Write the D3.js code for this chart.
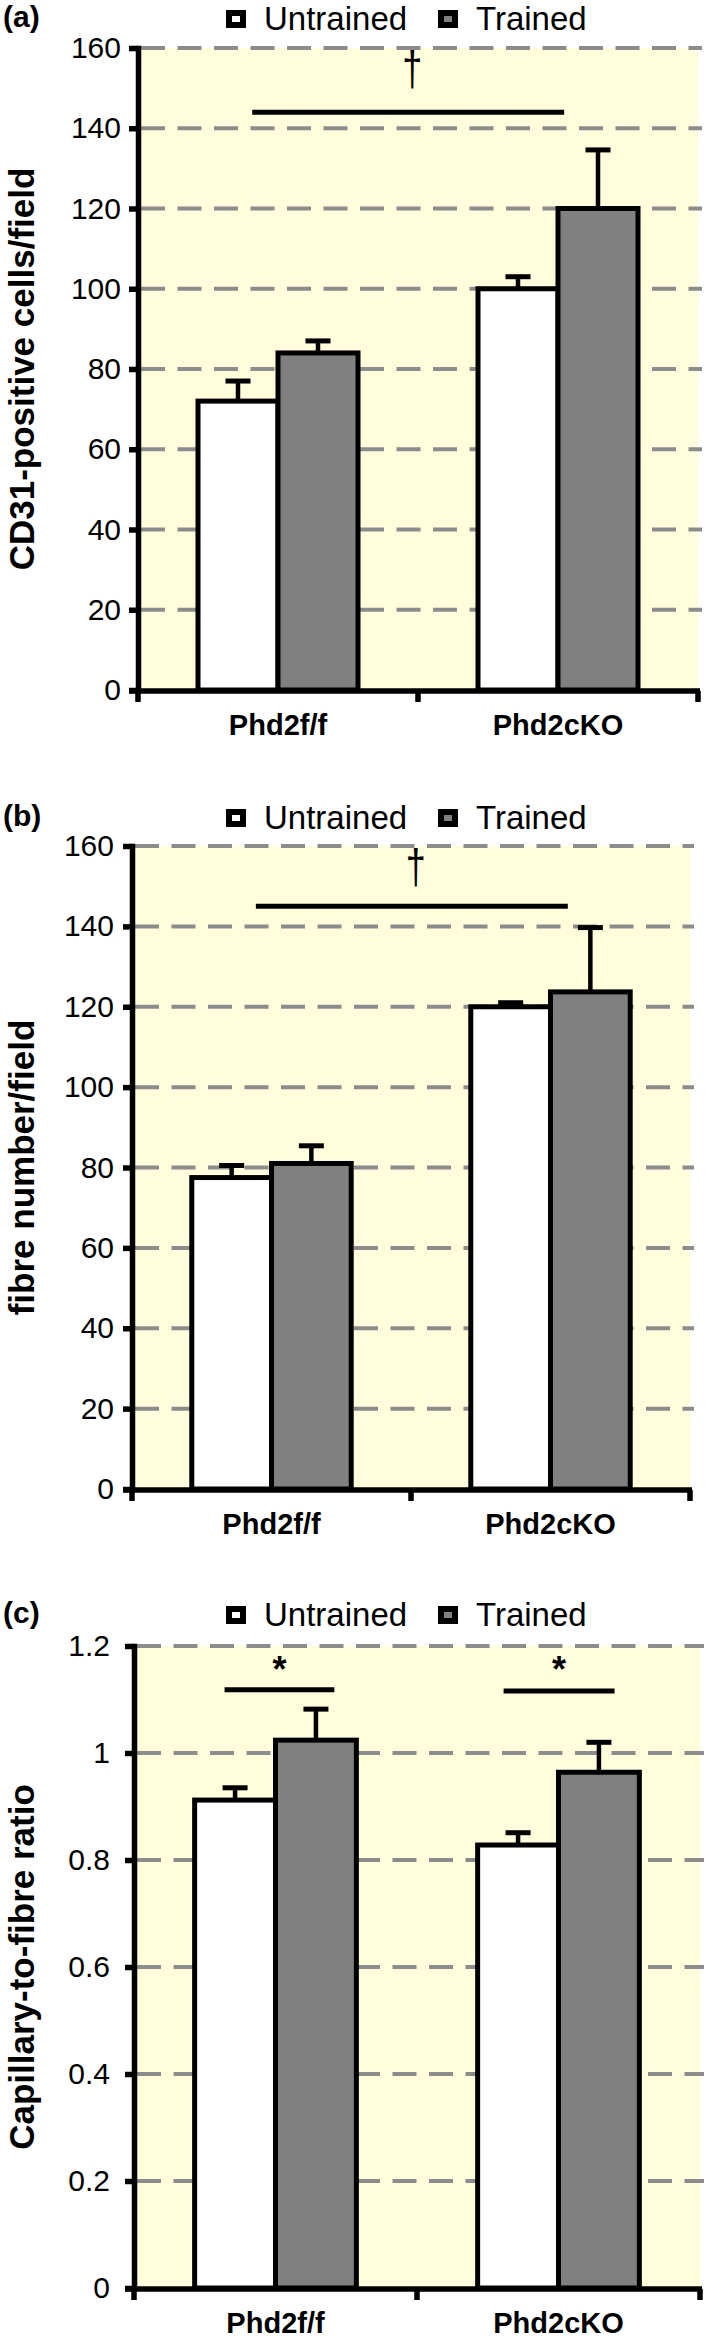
<!DOCTYPE html>
<html>
<head>
<meta charset="utf-8">
<script src="https://cdn.jsdelivr.net/npm/d3@7"></script>
<style>
body { margin: 0; background: #fff; }
svg { display: block; }
text { font-family: Arial, "Liberation Sans", Helvetica, sans-serif; }
</style>
</head>
<body>
<svg id="fig" width="709" height="2347"></svg>
<script>
// DATA
var categories = ['Phd2f/f', 'Phd2cKO'];
var groups = ['Untrained', 'Trained'];

// (a) CD31-positive cells/field
var cd31Untrained = [72, 100];
var cd31Trained = [84, 120];
var cd31UntrainedErr = [5, 3];
var cd31TrainedErr = [3, 14.6];
var cd31Ticks = [0, 20, 40, 60, 80, 100, 120, 140, 160];
var cd31TickLabels = ['0', '20', '40', '60', '80', '100', '120', '140', '160'];
var cd31Sig = [144];

// (b) fibre number/field
var fibreUntrained = [77.5, 120];
var fibreTrained = [81, 123.7];
var fibreUntrainedErr = [3, 1];
var fibreTrainedErr = [4.4, 16];
var fibreTicks = [0, 20, 40, 60, 80, 100, 120, 140, 160];
var fibreTickLabels = ['0', '20', '40', '60', '80', '100', '120', '140', '160'];
var fibreSig = [145];

// (c) capillary-to-fibre ratio
var ratioUntrained = [0.912, 0.828];
var ratioTrained = [1.024, 0.964];
var ratioUntrainedErr = [0.023, 0.023];
var ratioTrainedErr = [0.058, 0.056];
var ratioTicks = [0, 0.2, 0.4, 0.6, 0.8, 1, 1.2];
var ratioTickLabels = ['0', '0.2', '0.4', '0.6', '0.8', '1', '1.2'];
var ratioSig = [1.118, 1.116];

// PANELS (layout only)
var panels = [
	{
		tag: '(a)', title: 'CD31-positive cells/field',
		top: 48, bottom: 690, left: 138, right: 698, legendY: 30, tickPad: 8,
		untrained: cd31Untrained, trained: cd31Trained,
		untrainedErr: cd31UntrainedErr, trainedErr: cd31TrainedErr,
		ticks: cd31Ticks, tickLabels: cd31TickLabels,
		sig: cd31Sig, sigSym: '†', sigSpan: [[0.204, 0.761]]
	},
	{
		tag: '(b)', title: 'fibre number/field',
		top: 846, bottom: 1489, left: 132, right: 690, legendY: 829, tickPad: 9,
		untrained: fibreUntrained, trained: fibreTrained,
		untrainedErr: fibreUntrainedErr, trainedErr: fibreTrainedErr,
		ticks: fibreTicks, tickLabels: fibreTickLabels,
		sig: fibreSig, sigSym: '†', sigSpan: [[0.222, 0.781]]
	},
	{
		tag: '(c)', title: 'Capillary-to-fibre ratio',
		top: 1646, bottom: 2288, left: 134, right: 700, legendY: 1626, tickPad: 15,
		untrained: ratioUntrained, trained: ratioTrained,
		untrainedErr: ratioUntrainedErr, trainedErr: ratioTrainedErr,
		ticks: ratioTicks, tickLabels: ratioTickLabels,
		sig: ratioSig, sigSym: '*', sigSpan: [[0.16, 0.354], [0.653, 0.849]]
	}
];

var fills = { 'Untrained': '#ffffff', 'Trained': '#808080' };

var svg = d3.select('#fig');

panels.forEach(function(p) {
	var g = svg.append('g');

	var yMax = p.ticks[p.ticks.length - 1];
	var y = d3.scaleLinear().domain([0, yMax]).range([p.bottom, p.top]);
	var x0 = d3.scaleBand().domain(categories).range([p.left, p.right]);
	var x1 = d3.scaleBand().domain(groups).range([0, x0.bandwidth()]).paddingOuter(0.75);

	// plot background
	g.append('rect')
		.attr('x', p.left).attr('y', p.top)
		.attr('width', p.right - p.left).attr('height', p.bottom - p.top)
		.attr('fill', '#fffddb');

	// dashed gridlines
	g.selectAll('.grid')
		.data(p.ticks.filter(function(d) { return d > 0; }))
		.enter().append('line')
		.attr('x1', p.left + 3).attr('x2', p.right + 4)
		.attr('y1', function(d) { return y(d); })
		.attr('y2', function(d) { return y(d); })
		.attr('stroke', '#8c8c8c')
		.attr('stroke-width', 4)
		.attr('stroke-dasharray', '24,12.5');

	// bars
	var rows = categories.map(function(c, i) {
		return [
			{ cat: c, grp: 'Untrained', v: p.untrained[i], e: p.untrainedErr[i] },
			{ cat: c, grp: 'Trained', v: p.trained[i], e: p.trainedErr[i] }
		];
	});
	var flat = d3.merge(rows);

	// error bars (upper only)
	g.selectAll('.err')
		.data(flat)
		.enter().append('line')
		.attr('x1', function(d) { return x0(d.cat) + x1(d.grp) + x1.bandwidth() / 2; })
		.attr('x2', function(d) { return x0(d.cat) + x1(d.grp) + x1.bandwidth() / 2; })
		.attr('y1', function(d) { return y(d.v); })
		.attr('y2', function(d) { return y(d.v + d.e); })
		.attr('stroke', '#000').attr('stroke-width', 4.5);
	g.selectAll('.cap')
		.data(flat)
		.enter().append('line')
		.attr('x1', function(d) { return x0(d.cat) + x1(d.grp) + x1.bandwidth() / 2 - 12.5; })
		.attr('x2', function(d) { return x0(d.cat) + x1(d.grp) + x1.bandwidth() / 2 + 12.5; })
		.attr('y1', function(d) { return y(d.v + d.e); })
		.attr('y2', function(d) { return y(d.v + d.e); })
		.attr('stroke', '#000').attr('stroke-width', 5);

	g.selectAll('.bar')
		.data(flat)
		.enter().append('rect')
		.attr('x', function(d) { return x0(d.cat) + x1(d.grp); })
		.attr('y', function(d) { return y(d.v); })
		.attr('width', x1.bandwidth())
		.attr('height', function(d) { return y(0) - y(d.v); })
		.attr('fill', function(d) { return fills[d.grp]; })
		.attr('stroke', '#000').attr('stroke-width', 5);

	// y axis
	var yAxis = d3.axisLeft(y)
		.tickValues(p.ticks)
		.tickFormat(function(d, i) { return p.tickLabels[i]; })
		.tickSize(9).tickSizeOuter(0).tickPadding(p.tickPad);
	var ya = g.append('g')
		.attr('transform', 'translate(' + p.left + ',0)')
		.call(yAxis);
	ya.select('.domain').attr('stroke', '#000').attr('stroke-width', 5.5).attr('stroke-linecap', 'square');
	ya.selectAll('.tick line').attr('stroke', '#000').attr('stroke-width', 5.5);
	ya.selectAll('.tick text')
		.attr('fill', '#000')
		.style('font-size', '30px')
		.style('font-family', 'Arial, "Liberation Sans", sans-serif');

	// x axis
	var xBase = y(0) + 1;
	g.append('line')
		.attr('x1', p.left - 9).attr('x2', p.right + 2)
		.attr('y1', xBase).attr('y2', xBase)
		.attr('stroke', '#000').attr('stroke-width', 5.5);
	var bounds = categories.map(function(c) { return x0(c); }).concat([x0(categories[categories.length - 1]) + x0.bandwidth()]);
	g.selectAll('.xtick')
		.data(bounds)
		.enter().append('line')
		.attr('x1', function(d) { return d; }).attr('x2', function(d) { return d; })
		.attr('y1', xBase).attr('y2', xBase + 11)
		.attr('stroke', '#000').attr('stroke-width', 5.5);
	g.selectAll('.xlab')
		.data(categories)
		.enter().append('text')
		.attr('x', function(d) { return x0(d) + x0.bandwidth() / 2; })
		.attr('y', xBase + 44)
		.attr('text-anchor', 'middle')
		.style('font-size', '29px')
		.style('font-weight', 'bold')
		.text(function(d) { return d; });

	// y title
	g.append('text')
		.attr('transform', 'translate(34,' + ((p.top + p.bottom) / 2) + ') rotate(-90)')
		.attr('text-anchor', 'middle')
		.style('font-size', '35px')
		.style('font-weight', 'bold')
		.text(p.title);

	// panel tag
	g.append('text')
		.attr('x', 3).attr('y', p.legendY - 3)
		.style('font-size', '30px')
		.style('font-weight', 'bold')
		.text(p.tag);

	// legend
	var leg = g.selectAll('.leg')
		.data(groups)
		.enter().append('g')
		.attr('transform', function(d, i) { return 'translate(' + (226 + i * 212) + ',' + (p.legendY - 20) + ')'; });
	leg.append('rect')
		.attr('x', 3).attr('y', 3).attr('width', 14).attr('height', 12)
		.attr('fill', function(d) { return fills[d]; })
		.attr('stroke', '#000').attr('stroke-width', 6);
	leg.append('text')
		.attr('x', 38).attr('y', 20)
		.style('font-size', '33px')
		.text(function(d) { return d; });

	// significance
	p.sig.forEach(function(s, i) {
		var span = p.sigSpan[i];
		var xa = p.left + span[0] * (p.right - p.left);
		var xb = p.left + span[1] * (p.right - p.left);
		g.append('line')
			.attr('x1', xa).attr('x2', xb)
			.attr('y1', y(s)).attr('y2', y(s))
			.attr('stroke', '#000').attr('stroke-width', 5);
		if (p.sigSym == '†') {
			g.append('text')
				.attr('transform', 'translate(' + ((xa + xb) / 2 + 4) + ',' + (p.top + 37) + ') scale(0.9,1.22)')
				.attr('text-anchor', 'middle')
				.attr('fill', '#000')
				.style('font-size', '40px')
				.text(p.sigSym);
		} else {
			g.append('text')
				.attr('x', (xa + xb) / 2).attr('y', p.top + 36)
				.attr('text-anchor', 'middle')
				.style('font-size', '36px')
				.style('font-weight', 'bold')
				.text(p.sigSym);
		}
	});
});
</script>
</body>
</html>
